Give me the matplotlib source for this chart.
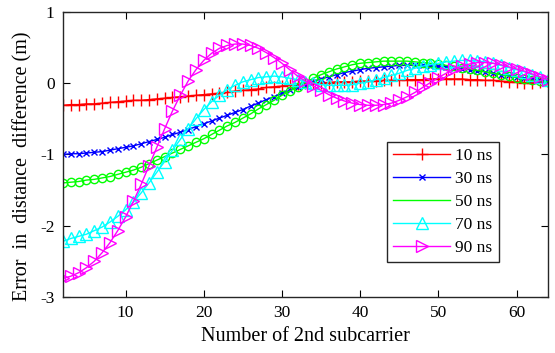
import matplotlib
matplotlib.use('Agg')
import matplotlib.pyplot as plt

plt.rcParams['font.family'] = ['Liberation Serif', 'DejaVu Serif']
plt.rcParams['axes.unicode_minus'] = False

subcarrier = list(range(2, 65))

err_10ns = [-0.31, -0.30, -0.30, -0.29, -0.29, -0.28, -0.27, -0.26, -0.25, -0.24,
            -0.24, -0.23, -0.22, -0.21, -0.20, -0.19, -0.18, -0.17, -0.16, -0.15,
            -0.14, -0.13, -0.11, -0.10, -0.09, -0.08, -0.06, -0.05, -0.04, -0.02,
            -0.01, 0.00, 0.00, 0.01, 0.01, 0.02, 0.02, 0.02, 0.03, 0.03,
            0.03, 0.04, 0.04, 0.04, 0.05, 0.05, 0.05, 0.06, 0.06, 0.06,
            0.06, 0.06, 0.05, 0.05, 0.04, 0.04, 0.03, 0.02, 0.02, 0.01,
            0.01, 0.02, 0.03]

err_30ns = [-1.00, -0.99, -0.99, -0.98, -0.97, -0.96, -0.94, -0.92, -0.90, -0.88,
            -0.85, -0.82, -0.79, -0.76, -0.72, -0.69, -0.65, -0.61, -0.57, -0.53,
            -0.49, -0.45, -0.41, -0.37, -0.32, -0.28, -0.23, -0.19, -0.14, -0.10,
            -0.06, -0.02, 0.02, 0.06, 0.09, 0.12, 0.15, 0.17, 0.19, 0.21,
            0.22, 0.23, 0.24, 0.25, 0.25, 0.25, 0.25, 0.24, 0.24, 0.23,
            0.22, 0.20, 0.19, 0.17, 0.16, 0.14, 0.12, 0.11, 0.09, 0.07,
            0.06, 0.04, 0.03]

err_50ns = [-1.40, -1.39, -1.38, -1.36, -1.35, -1.33, -1.31, -1.28, -1.25, -1.22,
            -1.18, -1.13, -1.08, -1.03, -0.98, -0.93, -0.88, -0.83, -0.78, -0.72,
            -0.66, -0.60, -0.55, -0.49, -0.43, -0.36, -0.30, -0.24, -0.17, -0.11,
            -0.05, 0.01, 0.07, 0.12, 0.16, 0.20, 0.23, 0.26, 0.28, 0.29,
            0.30, 0.31, 0.31, 0.31, 0.31, 0.30, 0.29, 0.28, 0.27, 0.25,
            0.24, 0.22, 0.20, 0.18, 0.16, 0.14, 0.12, 0.10, 0.08, 0.06,
            0.04, 0.03, 0.02]

err_70ns = [-2.22, -2.18, -2.15, -2.12, -2.07, -2.02, -1.95, -1.87, -1.78, -1.67,
            -1.54, -1.40, -1.25, -1.10, -0.94, -0.79, -0.64, -0.50, -0.37, -0.26,
            -0.17, -0.09, -0.03, 0.02, 0.05, 0.08, 0.09, 0.10, 0.09, 0.07,
            0.05, 0.02, 0.00, -0.02, -0.03, -0.03, -0.03, -0.02, 0.00, 0.02,
            0.05, 0.08, 0.11, 0.14, 0.18, 0.21, 0.24, 0.26, 0.28, 0.30,
            0.31, 0.32, 0.32, 0.31, 0.30, 0.28, 0.25, 0.22, 0.19, 0.16,
            0.12, 0.09, 0.05]

err_90ns = [-2.74, -2.71, -2.66, -2.59, -2.50, -2.38, -2.24, -2.07, -1.88, -1.66,
            -1.42, -1.16, -0.90, -0.64, -0.39, -0.17, 0.03, 0.19, 0.32, 0.42,
            0.49, 0.53, 0.55, 0.55, 0.53, 0.49, 0.43, 0.36, 0.28, 0.19,
            0.10, 0.03, -0.04, -0.10, -0.16, -0.21, -0.25, -0.28, -0.30, -0.31,
            -0.31, -0.30, -0.28, -0.24, -0.19, -0.13, -0.06, 0.01, 0.08, 0.14,
            0.20, 0.24, 0.27, 0.29, 0.29, 0.28, 0.26, 0.23, 0.20, 0.17,
            0.13, 0.09, 0.05]

labels = ['10 ns', '30 ns', '50 ns', '70 ns', '90 ns']

fig = plt.figure(figsize=(5.55, 3.53), dpi=100)
ax = fig.add_axes([0.1135, 0.159, 0.8735, 0.807])

ax.plot(subcarrier, err_10ns, color='#ff0000', marker='+', ms=8, mew=1.0, lw=1.0, label=labels[0])
ax.plot(subcarrier, err_30ns, color='#0000ff', marker='x', ms=5, mew=1.0, lw=1.0, label=labels[1])
# 50 ns: legend shows the line only, markers drawn separately
ax.plot(subcarrier, err_50ns, color='#00ff00', lw=1.0, label=labels[2])
ax.plot(subcarrier, err_50ns, color='#00ff00', ls='none', marker='o', ms=6, mfc='none', mew=1.0)
ax.plot(subcarrier, err_70ns, color='#00ffff', marker='^', ms=8, mfc='none', mew=1.0, lw=1.0, label=labels[3])
ax.plot(subcarrier, err_90ns, color='#ff00ff', marker='>', ms=8, mfc='none', mew=1.0, lw=1.0, label=labels[4])

ax.set_xlim(2, 64)
ax.set_ylim(-3, 1)
ax.set_xticks([10, 20, 30, 40, 50, 60])
ax.set_yticks([-3, -2, -1, 0, 1])
ax.tick_params(direction='in', top=True, right=True, labelsize=12.5, length=5, width=0.8, pad=6)
for s in ax.spines.values():
    s.set_linewidth(1.0)
    s.set_color('#262626')

ax.set_xlabel('Number of 2nd subcarrier', fontsize=14.5)
ax.set_ylabel('Error  in  distance  difference (m)', fontsize=14.5)
ax.yaxis.set_label_coords(-0.062, 0.46)

leg = ax.legend(loc='upper left', bbox_to_anchor=(0.668, 0.544), borderaxespad=0, fontsize=12.5,
                handlelength=3.3, handletextpad=0.3, labelspacing=0.39, borderpad=0.35,
                fancybox=False, framealpha=1, edgecolor='#262626')
leg.get_frame().set_linewidth(1.0)

fig.savefig('out.png', dpi=100)
